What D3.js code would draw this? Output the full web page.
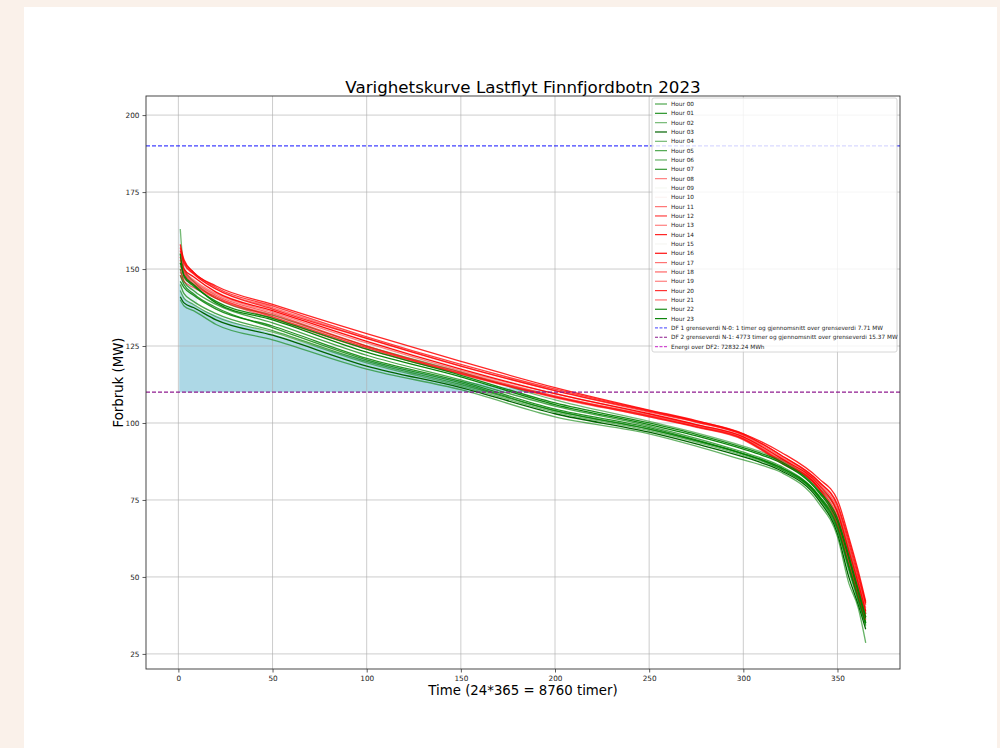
<!DOCTYPE html>
<html>
<head>
<meta charset="utf-8">
<script src="https://cdn.jsdelivr.net/npm/d3@7"></script>
<style>
  body { margin: 0; background: #faf1ea; }
  svg { display: block; font-family: "DejaVu Sans", sans-serif; }
</style>
</head>
<body>
<div id="chart"></div>
<script>
var w = 1000,
    h = 748,
    plotLeft = 146,
    plotRight = 900,
    plotTop = 96,
    plotBottom = 669;

// sample days along the duration curves (x axis)
var days = [1, 3, 8, 20, 50, 100, 150, 200, 250, 275, 300, 310, 320, 340, 350, 356, 361, 365];

var hour00 = [150, 146, 143, 138.5, 132.5, 122, 114, 105.5, 99, 95, 90.5, 88.5, 86, 76.5, 67, 54, 44, 35.5];
var hour01 = [146, 144, 141.5, 137, 131.5, 121, 113.5, 104.5, 98.5, 94.5, 90, 88, 85.5, 76, 66, 53, 43, 35];
var hour02 = [163, 150, 146, 140.5, 135, 125, 116.5, 107.5, 100.5, 96.8, 92.5, 90.5, 88, 79, 71, 59, 48, 38];
var hour03 = [141, 139, 137.5, 133.5, 128.5, 118.5, 111.5, 103, 97, 93.2, 89, 87, 84.5, 75, 64, 50, 41, 33];
var hour04 = [143, 140.5, 138.5, 134.5, 129.5, 119.5, 112, 103.5, 97.5, 93.8, 89.5, 87.5, 85, 75.5, 65, 52, 42, 34];
var hour05 = [145, 142, 139.5, 135.5, 130, 120, 112.5, 104, 98, 94.2, 90, 87.8, 85, 76, 65.5, 53, 42.5, 34.5];
var hour06 = [140, 138, 136.5, 132, 127, 117.5, 110.8, 102, 96.5, 92.5, 88, 86.2, 84, 74, 63, 48, 40, 28.6];
var hour07 = [148, 145, 142, 137.5, 131, 120.5, 113, 104, 98, 94.3, 90, 88, 85.5, 76.5, 66.5, 54, 43.5, 35];
var hour08 = [150, 148, 145.5, 141, 135, 125, 116, 108.5, 102.5, 99.2, 95, 91.5, 87.5, 79, 69, 56, 46, 38];
var hour09 = [153, 150, 147, 142.5, 136.5, 126.5, 117.5, 109.5, 103, 99.6, 95.5, 92.2, 88.5, 80, 71, 58, 48, 39];
var hour10 = [156, 151, 148, 143, 137, 127, 118, 110, 103.5, 100, 96, 92.8, 89, 80.5, 72, 59, 49, 40];
var hour11 = [155, 151.5, 148.5, 143.5, 137.5, 127.5, 118.5, 110.5, 103.5, 100.2, 96, 92.7, 89, 80.5, 72, 60, 49, 40];
var hour12 = [157, 152.5, 149, 144, 138, 128, 119, 111, 104, 100.6, 96.5, 93.2, 89.5, 81, 73, 61, 50, 41];
var hour13 = [152, 149.5, 146.5, 142, 136, 126, 117, 109.5, 102.8, 99.4, 95.5, 92, 88.5, 79.5, 70.5, 58, 47, 38.5];
var hour14 = [158, 153, 149, 144.5, 138.5, 129, 120, 111.5, 104.2, 100.8, 96.5, 93.8, 90.5, 82, 75, 63, 52, 42];
var hour15 = [151, 148, 146, 141.5, 135.5, 125.5, 117, 109, 102.5, 99, 95, 91.8, 88, 79.5, 70, 57, 47, 38];
var hour16 = [154, 150, 147.5, 142.5, 136.5, 126.5, 117.5, 109.5, 103, 99.5, 95.5, 92.3, 88.5, 80, 71, 58.5, 48, 39];
var hour17 = [149, 147, 145, 140.5, 134, 124, 115.8, 108.2, 102, 98.6, 94.5, 91, 87, 78.5, 67, 55, 44, 36];
var hour18 = [153, 149, 146, 141.5, 135.5, 125, 116.5, 108.8, 102.3, 98.8, 94.8, 91.3, 87.5, 79, 68, 56, 45, 37];
var hour19 = [151, 148.5, 145, 141, 134.5, 124.5, 116, 108.5, 102.2, 98.9, 95, 91.6, 88, 79, 69.5, 57, 46.5, 38];
var hour20 = [156, 152, 148.5, 143.5, 137, 127.5, 118.5, 110.5, 103.8, 100.4, 96.2, 93.2, 89.5, 81, 73.5, 62, 51, 41.5];
var hour21 = [148, 146, 144, 140.5, 134.5, 124.5, 116.2, 108.5, 102, 98.7, 94.7, 91.2, 87.2, 78.7, 68.5, 56.5, 45.5, 37];
var hour22 = [155, 147.5, 144.5, 139.5, 134, 124, 115.5, 106.5, 100, 96.3, 92, 90, 87.5, 78, 69, 57, 46, 37];
var hour23 = [152, 148, 145, 139, 133.5, 123, 115, 106, 99.5, 95.8, 91.5, 89.5, 87, 77.5, 68, 56, 45, 36.5];

var hourSeries = [hour00, hour01, hour02, hour03, hour04, hour05, hour06, hour07,
    hour08, hour09, hour10, hour11, hour12, hour13, hour14, hour15,
    hour16, hour17, hour18, hour19, hour20, hour21, hour22, hour23];

var hourLabels = ["Hour 00", "Hour 01", "Hour 02", "Hour 03", "Hour 04", "Hour 05", "Hour 06", "Hour 07",
    "Hour 08", "Hour 09", "Hour 10", "Hour 11", "Hour 12", "Hour 13", "Hour 14", "Hour 15",
    "Hour 16", "Hour 17", "Hour 18", "Hour 19", "Hour 20", "Hour 21", "Hour 22", "Hour 23"];

var hourColors = ["#008000", "#008000", "#008000", "#006400", "#008000", "#008000", "#008000", "#008000",
    "#ff0000", "#b8c890", "#e0a090", "#ff0000", "#ff0000", "#ff0000", "#ff0000", "#c0c0a0",
    "#ff0000", "#ff0000", "#ff0000", "#ff0000", "#ff0000", "#ff0000", "#008000", "#008000"];

var hourAlpha = [0.7, 0.85, 0.55, 1, 0.55, 0.7, 0.6, 0.8,
    0.5, 0.12, 0.12, 0.55, 0.75, 0.5, 0.85, 0.12,
    0.95, 0.55, 0.6, 0.5, 0.8, 0.55, 0.9, 0.95];

// total duration curve (all 8760 hours / 24) above DF2
var fillDays = [0.5, 1, 3, 8, 20, 50, 100, 150, 175, 198.9];
var fillVals = [146, 144, 141, 138.5, 135, 129, 120.5, 113.8, 111.5, 110];
var peakDays = [0.25, 0.4, 0.7, 1.5, 3, 6, 10];
var peakVals = [197.7, 175, 163, 156, 151, 147, 143];

var df1 = 190, df2 = 110;
var xTicks = [0, 50, 100, 150, 200, 250, 300, 350];
var yTicks = [25, 50, 75, 100, 125, 150, 175, 200];

var legendExtra = [
    {label: "DF 1 grenseverdi N-0: 1 timer og gjennomsnitt over grenseverdi 7.71 MW", color: "#0000ff", alpha: 0.6},
    {label: "DF 2 grenseverdi N-1: 4773 timer og gjennomsnitt over grenseverdi 15.37 MW", color: "#800080", alpha: 0.9},
    {label: "Energi over DF2: 72832.24 MWh", color: "#bf00bf", alpha: 0.7}
];

var svg = d3.select("#chart")
    .append("svg")
    .attr("width", w)
    .attr("height", h);

// white figure panel
svg.append("rect")
    .attr("x", 24).attr("y", 7)
    .attr("width", 973).attr("height", h - 7)
    .style("fill", "#ffffff");

var x = d3.scaleLinear().domain([-17.2, 383.2]).range([plotLeft, plotRight]),
    y = d3.scaleLinear().domain([20.1, 206.2]).range([plotBottom, plotTop]);

var area = d3.area()
    .x(function (d) { return x(d[0]); })
    .y0(y(df2))
    .y1(function (d) { return y(d[1]); })
    .curve(d3.curveMonotoneX);

var line = d3.line()
    .x(function (d) { return x(d[0]); })
    .y(function (d) { return y(d[1]); })
    .curve(d3.curveMonotoneX);

var plot = svg.append("g");

plot.append("path")
    .datum(d3.zip(peakDays, peakVals))
    .attr("d", area)
    .style("fill", "#add8e6")
    .style("opacity", 0.3);

plot.append("path")
    .datum(d3.zip(fillDays, fillVals))
    .attr("d", area)
    .style("fill", "#add8e6");

// grid
plot.selectAll(".gx")
    .data(xTicks)
    .enter().append("line")
    .attr("x1", function (d) { return x(d); })
    .attr("x2", function (d) { return x(d); })
    .attr("y1", plotTop).attr("y2", plotBottom)
    .style("stroke", "#b0b0b0").style("stroke-opacity", 0.7).style("stroke-width", 0.9);

plot.selectAll(".gy")
    .data(yTicks)
    .enter().append("line")
    .attr("y1", function (d) { return y(d); })
    .attr("y2", function (d) { return y(d); })
    .attr("x1", plotLeft).attr("x2", plotRight)
    .style("stroke", "#b0b0b0").style("stroke-opacity", 0.7).style("stroke-width", 0.9);

// hour curves
plot.selectAll(".hour")
    .data(hourSeries)
    .enter().append("path")
    .attr("class", "hour")
    .attr("d", function (d) { return line(d3.zip(days, d)); })
    .style("fill", "none")
    .style("stroke", function (d, i) { return hourColors[i]; })
    .style("stroke-opacity", function (d, i) { return hourAlpha[i]; })
    .style("stroke-width", 1.3);

// limit lines
plot.append("line")
    .attr("x1", plotLeft).attr("x2", plotRight)
    .attr("y1", y(df1)).attr("y2", y(df1))
    .style("stroke", "#0000ff").style("stroke-opacity", 0.75)
    .style("stroke-width", 1.2).style("stroke-dasharray", "4,2");

plot.append("line")
    .attr("x1", plotLeft).attr("x2", plotRight)
    .attr("y1", y(df2)).attr("y2", y(df2))
    .style("stroke", "#8a108a").style("stroke-opacity", 0.95)
    .style("stroke-width", 1.2).style("stroke-dasharray", "4,2");

// axes
var xAxis = d3.axisBottom(x).tickValues(xTicks).tickSize(3.5).tickPadding(3),
    yAxis = d3.axisLeft(y).tickValues(yTicks).tickSize(3.5).tickPadding(3);

var gx = svg.append("g")
    .attr("transform", "translate(0," + plotBottom + ")")
    .call(xAxis);
var gy = svg.append("g")
    .attr("transform", "translate(" + plotLeft + ",0)")
    .call(yAxis);

[gx, gy].forEach(function (g) {
    g.select(".domain").remove();
    g.selectAll(".tick line").style("stroke", "#333").style("stroke-width", 0.8);
    g.selectAll(".tick text").style("font-size", "7.3px").style("fill", "#222")
        .style("font-family", "DejaVu Sans");
});

svg.append("rect")
    .attr("x", plotLeft).attr("y", plotTop)
    .attr("width", plotRight - plotLeft).attr("height", plotBottom - plotTop)
    .style("fill", "none").style("stroke", "#333").style("stroke-width", 0.9);

// titles
svg.append("text")
    .attr("x", (plotLeft + plotRight) / 2)
    .attr("y", 93)
    .attr("text-anchor", "middle")
    .style("font-size", "16.7px")
    .text("Varighetskurve Lastflyt Finnfjordbotn 2023");

svg.append("text")
    .attr("x", (plotLeft + plotRight) / 2)
    .attr("y", 695)
    .attr("text-anchor", "middle")
    .style("font-size", "13.3px")
    .text("Time (24*365 = 8760 timer)");

svg.append("text")
    .attr("transform", "translate(123," + ((plotTop + plotBottom) / 2) + ") rotate(-90)")
    .attr("text-anchor", "middle")
    .style("font-size", "13.3px")
    .text("Forbruk (MW)");

// legend
var legend = svg.append("g");
legend.append("rect")
    .attr("x", 652).attr("y", 98)
    .attr("width", 245).attr("height", 254)
    .attr("rx", 2)
    .style("fill", "#ffffff").style("fill-opacity", 0.8)
    .style("stroke", "#cccccc").style("stroke-width", 0.8);

var entries = hourLabels.map(function (l, i) {
    return {label: l, color: hourColors[i], alpha: hourAlpha[i], dash: null};
}).concat(legendExtra.map(function (e) {
    return {label: e.label, color: e.color, alpha: e.alpha, dash: "3,1.5"};
}));

var row = legend.selectAll(".entry")
    .data(entries)
    .enter().append("g")
    .attr("transform", function (d, i) { return "translate(0," + (104 + i * 9.33) + ")"; });

row.append("line")
    .attr("x1", 655).attr("x2", 667)
    .style("stroke", function (d) { return d.color; })
    .style("stroke-opacity", function (d) { return d.alpha; })
    .style("stroke-width", 1.2)
    .style("stroke-dasharray", function (d) { return d.dash; });

row.append("text")
    .attr("x", 671)
    .attr("dy", "0.35em")
    .style("font-size", "5.75px")
    .style("fill", "#222")
    .text(function (d) { return d.label; });
</script>
</body>
</html>
